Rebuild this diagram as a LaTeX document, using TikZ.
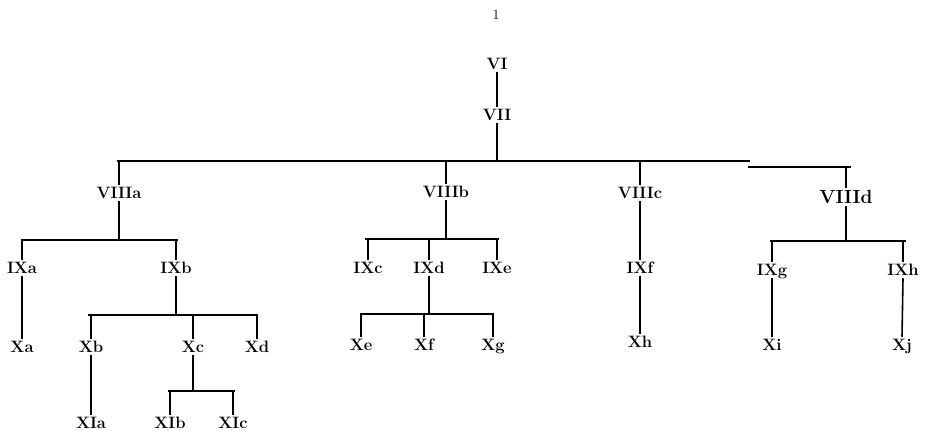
\documentclass[tikz,border=0pt]{standalone}
\usepackage{tikz}
\usetikzlibrary{positioning}

\begin{document}
\begin{tikzpicture}[x=1pt, y=-1pt,
	lbl/.style={inner sep=0pt, outer sep=2.5pt, text height=11.5pt, text depth=0pt, font=\fontsize{16.5}{16.5}\selectfont\bfseries},
	biglbl/.style={lbl, text height=13pt, font=\fontsize{19}{19}\selectfont\bfseries},
	bar/.style={line width=1.8pt},
	heavybar/.style={line width=2.6pt},
	stem/.style={line width=1.6pt}]
			
			\useasboundingbox (0,0) rectangle (929,431);
			
			\node (pgno) at (496,15) [font=\fontsize{14}{14}\selectfont]{1};
			
			\node (VI) at (497,64) [lbl]{VI};
			\node (VII) at (497,115) [lbl]{VII};
			\draw[stem] (VI.south) -- (VII.north);
			
			\coordinate (b0l) at (117,161);
			\coordinate (b0r) at (750,161);
			\draw[bar] (b0l) -- (b0r);
			\draw[stem] (VII.south) -- (VII.south |- b0l);
			
			\node (VIIIa) at (119,193) [lbl]{VIIIa};
			\node (VIIIb) at (446,192) [lbl]{VIIIb};
			\node (VIIIc) at (640,193) [lbl]{VIIIc};
			\node (VIIId) at (846,197) [biglbl]{VIIId};
			
			\draw[stem] (VIIIa.north |- b0l) -- (VIIIa.north);
			\draw[stem] (VIIIb.north |- b0l) -- (VIIIb.north);
			\draw[stem] (VIIIc.north |- b0l) -- (VIIIc.north);
			
			\coordinate (bDl) at (748,167);
			\coordinate (bDr) at (851,167);
			\draw[heavybar] (bDl) -- (bDr);
			\draw[stem] (VIIId.north |- bDl) -- (VIIId.north);
			
			% level IX
			\coordinate (bAl) at (21,240);
			\coordinate (bAr) at (178,240);
			\draw[bar] (bAl) -- (bAr);
			\draw[stem] (VIIIa.south) -- (VIIIa.south |- bAl);
			\node (IXa) at (22,268) [lbl]{IXa};
			\node (IXb) at (176,268) [lbl]{IXb};
			\draw[stem] (IXa.north |- bAl) -- (IXa.north);
			\draw[stem] (IXb.north |- bAl) -- (IXb.north);
			
			\coordinate (bBl) at (365,239);
			\coordinate (bBr) at (499,239);
			\draw[bar] (bBl) -- (bBr);
			\draw[stem] (VIIIb.south) -- (VIIIb.south |- bBl);
			\node (IXc) at (368,268) [lbl]{IXc};
			\node (IXd) at (429,268) [lbl]{IXd};
			\node (IXe) at (497,268) [lbl]{IXe};
			\draw[stem] (IXc.north |- bBl) -- (IXc.north);
			\draw[stem] (IXd.north |- bBl) -- (IXd.north);
			\draw[stem] (IXe.north |- bBl) -- (IXe.north);
			
			\node (IXf) at (640,268) [lbl]{IXf};
			\draw[stem] (VIIIc.south) -- (IXf.north);
			
			\coordinate (bD2l) at (770,241);
			\coordinate (bD2r) at (906,241);
			\draw[bar] (bD2l) -- (bD2r);
			\draw[stem] (VIIId.south) -- (VIIId.south |- bD2l);
			\node (IXg) at (772,270) [lbl]{IXg};
			\node (IXh) at (903,270) [lbl]{IXh};
			\draw[stem] (IXg.north |- bD2l) -- (IXg.north);
			\draw[stem] (IXh.north |- bD2l) -- (IXh.north);
			
			% level X
			\node (Xa) at (22,347) [lbl]{Xa};
			\draw[stem] (IXa.south) -- (Xa.north);
			
			\coordinate (bCl) at (88,315);
			\coordinate (bCr) at (258,315);
			\draw[bar] (bCl) -- (bCr);
			\draw[stem] (IXb.south) -- (IXb.south |- bCl);
			\node (Xb) at (91,347) [lbl]{Xb};
			\node (Xc) at (193,347) [lbl]{Xc};
			\node (Xd) at (257,347) [lbl]{Xd};
			\draw[stem] (Xb.north |- bCl) -- (Xb.north);
			\draw[stem] (Xc.north |- bCl) -- (Xc.north);
			\draw[stem] (Xd.north |- bCl) -- (Xd.north);
			
			\coordinate (bEl) at (360,314);
			\coordinate (bEr) at (494,314);
			\draw[bar] (bEl) -- (bEr);
			\draw[stem] (IXd.south) -- (IXd.south |- bEl);
			\node (Xe) at (361,345) [lbl]{Xe};
			\node (Xf) at (424,345) [lbl]{Xf};
			\node (Xg) at (493,345) [lbl]{Xg};
			\draw[stem] (Xe.north |- bEl) -- (Xe.north);
			\draw[stem] (Xf.north |- bEl) -- (Xf.north);
			\draw[stem] (Xg.north |- bEl) -- (Xg.north);
			
			\node (Xh) at (640,342) [lbl]{Xh};
			\draw[stem] (IXf.south) -- (Xh.north);
			
			\node (Xi) at (772,345) [lbl]{Xi};
			\node (Xj) at (902,345) [lbl]{Xj};
			\draw[stem] (IXg.south) -- (Xi.north);
			\draw[stem] (IXh.south) -- (Xj.north);
			
			% level XI
			\node (XIa) at (91,423) [lbl]{XIa};
			\draw[stem] (Xb.south) -- (XIa.north);
			
			\coordinate (bFl) at (168,391);
			\coordinate (bFr) at (235,391);
			\draw[bar] (bFl) -- (bFr);
			\draw[stem] (Xc.south) -- (Xc.south |- bFl);
			\node (XIb) at (170,423) [lbl]{XIb};
			\node (XIc) at (233,423) [lbl]{XIc};
			\draw[stem] (XIb.north |- bFl) -- (XIb.north);
			\draw[stem] (XIc.north |- bFl) -- (XIc.north);
			
\end{tikzpicture}
\end{document}
